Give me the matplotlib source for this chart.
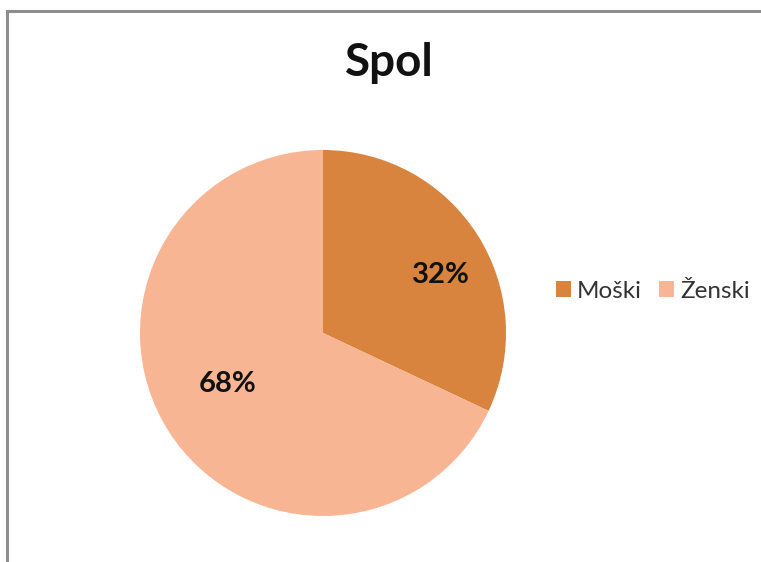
import numpy as np
import matplotlib
matplotlib.use('Agg')
import matplotlib.pyplot as plt
from matplotlib.patches import Patch
from matplotlib.lines import Line2D

plt.rcParams['font.family'] = ['Lato', 'DejaVu Sans']

labels = ['Moški', 'Ženski']
shares = [32, 68]
colors = ['#D9843E', '#F8B593']
label_radius = [0.72, 0.58]
label_nudge = [(5, -9), (-4, 4)]  # points

fig = plt.figure(figsize=(7.61, 5.62), dpi=100)
fig.patch.set_facecolor('white')

# chart frame: only the top and left edges show
frame = '#8E8E8E'
fig.add_artist(Line2D([6.5 / 761, 6.5 / 761], [0, 1 - 10.5 / 562], color=frame, lw=2.2,
                      transform=fig.transFigure))
fig.add_artist(Line2D([6.5 / 761, 1], [1 - 10.5 / 562, 1 - 10.5 / 562], color=frame, lw=2.2,
                      transform=fig.transFigure))

cx, cy, r = 323 / 761, 1 - 333 / 562, 183
ax = fig.add_axes([cx - r / 761, cy - r / 562, 2 * r / 761, 2 * r / 562])
wedges, _ = ax.pie(shares, colors=colors, startangle=90, counterclock=False,
                   radius=1, wedgeprops=dict(linewidth=0))
ax.set_xlim(-1, 1)
ax.set_ylim(-1, 1)
ax.set_aspect('equal')
ax.axis('off')

for w, v, d, off in zip(wedges, shares, label_radius, label_nudge):
    mid = np.deg2rad((w.theta1 + w.theta2) / 2)
    ax.annotate(f'{v}%', (d * np.cos(mid), d * np.sin(mid)), xytext=off,
                textcoords='offset points', ha='center', va='center',
                fontsize=21, fontweight='bold', color='#111111')

fig.text(389 / 761, 1 - 63 / 562, 'Spol', ha='center', va='center',
         fontsize=33, fontweight='bold', color='#111111')

handles = [Patch(facecolor=c, edgecolor='none') for c in colors]
fig.legend(handles, labels, loc='center left', bbox_to_anchor=(546 / 761, 1 - 291 / 562),
           ncol=2, frameon=False, fontsize=17.5, handlelength=0.62, handleheight=0.62,
           handletextpad=0.25, columnspacing=0.7, borderaxespad=0, labelcolor='#333333')

fig.savefig('out.png', dpi=100, facecolor='white')
